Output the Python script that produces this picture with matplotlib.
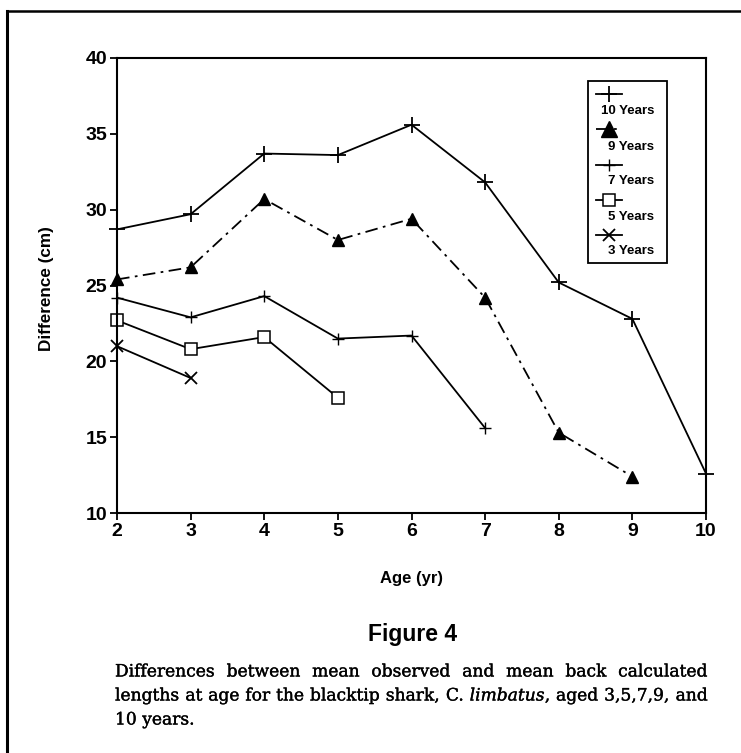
import matplotlib
matplotlib.use("Agg")
import matplotlib.pyplot as plt
from matplotlib.lines import Line2D
from matplotlib.patches import Rectangle
import matplotlib.patheffects as pe

# ---- data ----
ages10 = [2, 3, 4, 5, 6, 7, 8, 9, 10]
diff10 = [28.7, 29.7, 33.7, 33.6, 35.6, 31.8, 25.2, 22.8, 12.6]
ages9 = [2, 3, 4, 5, 6, 7, 8, 9]
diff9 = [25.4, 26.2, 30.7, 28.0, 29.4, 24.2, 15.3, 12.4]
ages7 = [2, 3, 4, 5, 6, 7]
diff7 = [24.2, 22.9, 24.3, 21.5, 21.7, 15.6]
ages5 = [2, 3, 4, 5]
diff5 = [22.7, 20.8, 21.6, 17.6]
ages3 = [2, 3]
diff3 = [21.0, 18.9]
labels = ["10 Years", "9 Years", "7 Years", "5 Years", "3 Years"]
xticks = [2, 3, 4, 5, 6, 7, 8, 9, 10]
yticks = [10, 15, 20, 25, 30, 35, 40]

W, H = 741, 753
fig = plt.figure(figsize=(W / 100, H / 100), dpi=100)
fig.patch.set_facecolor("white")

def fx(px):
    return px / W

def fy(py):
    return 1 - py / H

ax = fig.add_axes([fx(117), fy(513), fx(706) - fx(117), fy(58) - fy(513)])

styles = [
    dict(marker="+", ms=11, mew=1.3, ls="-", color="black", mfc="none"),
    dict(marker="^", ms=9, mew=1.0, ls=(0, (7, 3, 1.5, 3)), color="black", mfc="black"),
    dict(marker="+", ms=8, mew=1.0, ls="-", color="black", mfc="none"),
    dict(marker="s", ms=8, mew=1.1, ls="-", color="black", mfc="white"),
    dict(marker="x", ms=9, mew=1.3, ls="-", color="black", mfc="none"),
]
series = [(ages10, diff10), (ages9, diff9), (ages7, diff7), (ages5, diff5), (ages3, diff3)]
for (xs, ys), st, lab in zip(series, styles, labels):
    ax.plot(xs, ys, lw=1.3, label=lab, clip_on=False, **st)

ax.set_xlim(2, 10)
ax.set_ylim(10, 40)
ax.set_xticks(xticks)
ax.set_yticks(yticks)
tickfont = dict(family="Liberation Sans", weight="bold", size=14)
ax.set_xticklabels([str(v) for v in xticks], fontdict=tickfont)
ax.set_yticklabels([str(v) for v in yticks], fontdict=tickfont)
ax.tick_params(axis="both", direction="out", length=5, width=1.3, pad=2)
for sp in ax.spines.values():
    sp.set_linewidth(1.5)

fig.text(fx(412), fy(579), "Age (yr)", ha="center", va="center",
         family="Liberation Sans", weight="bold", size=12)
fig.text(fx(46), fy(289), "Difference (cm)", ha="center", va="center", rotation=90,
         family="Liberation Sans", weight="bold", size=12.3)

# ---- legend drawn manually (axes fraction) ----
def axx(px):
    return (px - 117) / (706 - 117)

def axy(py):
    return (513 - py) / (513 - 58)

ax.add_patch(Rectangle((axx(588), axy(263)), axx(667) - axx(588), axy(81) - axy(263),
                       transform=ax.transAxes, fill=False, lw=1.3, ec="black", zorder=5))
handle_y = [94, 129, 165, 200, 235]
label_y = [111, 147, 181, 217, 251]
for st, lab, hy, ly in zip(styles, labels, handle_y, label_y):
    s = dict(st)
    if s["marker"] == "^":
        s["ms"] = 11
    ln = Line2D([axx(596), axx(609), axx(622)], [axy(hy)] * 3, transform=ax.transAxes,
                lw=1.3, markevery=[1], zorder=6, **s)
    ax.add_line(ln)
    ax.text(axx(654), axy(ly), lab, transform=ax.transAxes, ha="right", va="center",
            family="Liberation Sans", weight="bold", size=9.5, zorder=6)

# ---- outer frame ----
fig.add_artist(Line2D([fx(7), fx(7)], [0, fy(11)], color="black", lw=2.2))
fig.add_artist(Line2D([fx(7), 1], [fy(11), fy(11)], color="black", lw=1.8))

# ---- caption ----
fig.text(fx(413), fy(635), "Figure 4", ha="center", va="center",
         family="Liberation Sans", weight="bold", size=16.5)

capfont = dict(family="DejaVu Serif", size=12.3)
heavy = [pe.withStroke(linewidth=0.25, foreground="black")]
lines = [
    [[("Differences", "normal")], [("between", "normal")], [("mean", "normal")],
     [("observed", "normal")], [("and", "normal")], [("mean", "normal")],
     [("back", "normal")], [("calculated", "normal")]],
    [[("lengths", "normal")], [("at", "normal")], [("age", "normal")], [("for", "normal")],
     [("the", "normal")], [("blacktip", "normal")], [("shark,", "normal")],
     [("C.", "normal")], [("limbatus", "italic"), (",", "normal")], [("aged", "normal")],
     [("3,5,7,9,", "normal")], [("and", "normal")]],
    [[("10", "normal")], [("years.", "normal")]],
]
line_y = [670, 694, 718]
x_left, x_right = 115, 708
fig.canvas.draw()
renderer = fig.canvas.get_renderer()

def measure(txt, style):
    t = fig.text(0, 0, txt, style=style, **capfont)
    w = t.get_window_extent(renderer).width
    t.remove()
    return w

space_w = measure("a b", "normal") - measure("ab", "normal")
for i, (words, ly) in enumerate(zip(lines, line_y)):
    widths = [[measure(s, st) for s, st in w] for w in words]
    total = sum(sum(w) for w in widths)
    if i < len(lines) - 1:
        gap = (x_right - x_left - total) / (len(words) - 1)
    else:
        gap = space_w
    x = x_left
    for w, ws in zip(words, widths):
        for (s, st), sw in zip(w, ws):
            fig.text(fx(x), fy(ly), s, style=st, ha="left", va="center_baseline",
                     path_effects=heavy, **capfont)
            x += sw
        x += gap

fig.savefig("out.png", dpi=100, facecolor="white")
